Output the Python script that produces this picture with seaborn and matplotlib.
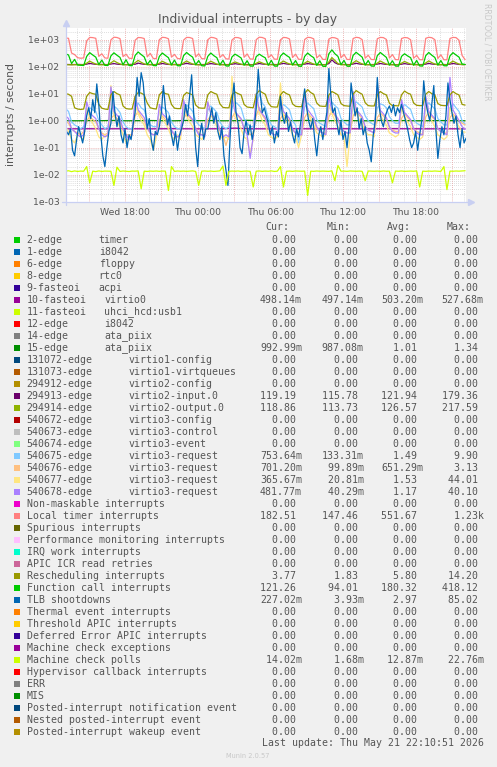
import matplotlib
matplotlib.use("Agg")
import matplotlib.pyplot as plt
import matplotlib.dates as mdates
from matplotlib.patches import Rectangle
from matplotlib.ticker import FixedLocator, FuncFormatter, NullFormatter, NullLocator
import numpy as np
import pandas as pd
import seaborn as sns

# ---------------- data ----------------
t15 = pd.date_range("2026-05-20 13:05", periods=133, freq="15min")   # most series
t10 = pd.date_range("2026-05-20 13:10", periods=199, freq="10min")   # TLB shootdowns
t60 = pd.date_range("2026-05-20 13:05", periods=34, freq="60min")    # flat series

virtio0 = [0.498, 0.5, 0.502, 0.499, 0.501, 0.503, 0.5, 0.498, 0.502, 0.505, 0.5, 0.499,
           0.501, 0.503, 0.528, 0.502, 0.5, 0.499, 0.501, 0.504, 0.5, 0.498, 0.502, 0.503,
           0.5, 0.499, 0.501, 0.505, 0.502, 0.5, 0.499, 0.501, 0.5, 0.498]
ata_piix = [1.0, 0.99, 1.01, 1.0, 1.02, 0.99, 1.0, 1.01, 1.0, 0.99, 1.02, 1.0,
            1.01, 0.99, 1.0, 1.03, 1.0, 0.99, 1.01, 1.0, 1.02, 0.99, 1.0, 1.01,
            1.0, 0.99, 1.02, 1.0, 1.01, 0.99, 1.0, 1.01, 1.0, 0.993]

virtio2_in = ([121, 120, 119, 120, 121, 120, 119] +
              [124, 132, 126, 122, 120, 121, 120, 119] + [125, 130, 124, 121, 120, 119, 120, 121] +
              [123, 135, 127, 122, 121, 120, 119, 120] + [124, 131, 125, 121, 120, 121, 120, 119] +
              [125, 133, 126, 122, 120, 119, 120, 120] + [124, 130, 125, 121, 121, 120, 119, 120] +
              [123, 129, 124, 121, 120, 120, 119, 119] + [124, 131, 125, 122, 120, 121, 120, 119] +
              [125, 132, 126, 122, 121, 120, 119, 120] + [124, 130, 125, 121, 120, 120, 119, 119] +
              [130, 179, 140, 124, 121, 120, 120, 119] + [125, 133, 126, 122, 120, 119, 120, 120] +
              [124, 131, 125, 121, 120, 120, 119, 119] + [123, 130, 124, 121, 121, 120, 119, 120] +
              [124, 132, 125, 122, 120, 119, 120, 119] + [124, 131, 126, 121, 120, 119.2])
virtio2_out = ([118, 117, 117, 118, 117, 118, 117] +
               [135, 160, 140, 125, 118, 117, 118, 117] + [138, 165, 142, 126, 117, 118, 117, 116] +
               [140, 170, 145, 127, 118, 117, 117, 118] + [134, 158, 139, 124, 117, 118, 117, 117] +
               [137, 162, 141, 125, 118, 117, 116, 117] + [135, 159, 140, 124, 117, 117, 118, 117] +
               [132, 150, 136, 123, 117, 116, 117, 117] + [133, 152, 137, 123, 118, 117, 117, 116] +
               [136, 161, 140, 125, 117, 118, 117, 117] + [135, 158, 139, 124, 117, 117, 116, 117] +
               [150, 217, 170, 130, 118, 117, 117, 116] + [138, 166, 143, 126, 117, 118, 117, 117] +
               [136, 162, 141, 125, 117, 117, 118, 117] + [134, 155, 138, 124, 118, 117, 117, 116] +
               [137, 163, 141, 125, 117, 118, 117, 117] + [136, 160, 140, 124, 119, 118.9])

req_675 = ([2.8, 2.2, 0.9, 0.7, 0.6, 0.5, 0.6] +
           [2.0, 3.0, 2.5, 2.2, 1.0, 0.7, 0.5, 0.6] + [2.5, 3.5, 2.8, 2.0, 0.9, 0.6, 0.5, 0.5] +
           [3.0, 4.5, 3.0, 2.5, 1.1, 0.7, 0.6, 0.6] + [2.2, 3.2, 2.6, 2.0, 0.9, 0.6, 0.5, 0.5] +
           [2.5, 3.8, 3.0, 2.2, 1.0, 0.7, 0.6, 0.5] + [2.4, 3.5, 2.7, 2.0, 0.9, 0.6, 0.5, 0.6] +
           [3.0, 5.0, 4.0, 3.0, 1.2, 0.8, 0.6, 0.6] + [3.5, 9.9, 4.5, 3.2, 1.2, 0.7, 0.6, 0.5] +
           [2.8, 4.0, 3.2, 2.5, 1.0, 0.7, 0.15, 0.6] + [3.2, 4.5, 3.5, 2.8, 1.1, 0.8, 0.7, 0.6] +
           [3.0, 4.8, 3.6, 2.9, 1.2, 0.9, 0.7, 0.7] + [3.5, 5.0, 4.0, 3.2, 1.5, 1.0, 0.8, 0.7] +
           [3.0, 4.2, 3.8, 3.0, 1.4, 1.0, 0.8, 0.8] + [2.8, 4.0, 3.2, 2.6, 1.2, 0.8, 0.7, 0.6] +
           [3.2, 4.6, 3.5, 2.8, 1.2, 0.9, 0.7, 0.7] + [3.0, 4.2, 3.0, 2.2, 1.0, 0.75])
req_676 = ([1.0, 0.8, 0.5, 0.4, 0.35, 0.3, 0.4] +
           [1.0, 1.4, 1.1, 0.9, 0.5, 0.35, 0.3, 0.35] + [1.2, 1.6, 1.2, 0.9, 0.45, 0.3, 0.3, 0.3] +
           [1.5, 2.2, 1.4, 1.0, 0.5, 0.35, 0.3, 0.35] + [1.0, 1.5, 1.1, 0.8, 0.4, 0.3, 0.25, 0.3] +
           [1.2, 1.8, 1.3, 1.0, 0.5, 0.35, 0.3, 0.3] + [1.1, 1.5, 1.2, 0.9, 0.45, 0.3, 0.12, 0.3] +
           [1.3, 2.0, 1.5, 1.1, 0.5, 0.4, 0.3, 0.35] + [1.5, 3.1, 1.6, 1.1, 0.5, 0.35, 0.3, 0.3] +
           [1.2, 1.7, 1.3, 1.0, 0.45, 0.35, 0.3, 0.3] + [1.3, 2.0, 1.4, 1.1, 0.5, 0.4, 0.35, 0.35] +
           [1.4, 2.2, 1.5, 1.1, 0.55, 0.4, 0.35, 0.35] + [1.5, 2.3, 1.6, 1.2, 0.6, 0.45, 0.4, 0.35] +
           [1.3, 1.9, 1.5, 1.1, 0.55, 0.45, 0.4, 0.4] + [1.2, 1.8, 1.3, 1.0, 0.5, 0.4, 0.35, 0.3] +
           [1.4, 2.0, 1.4, 1.1, 0.5, 0.4, 0.35, 0.35] + [1.3, 1.8, 1.3, 1.0, 0.8, 0.7])
req_677 = ([0.6, 0.4, 0.2, 0.15, 0.3, 0.25, 0.2] +
           [3.0, 1.2, 0.8, 0.5, 0.25, 0.2, 0.3, 0.25] + [20, 1.5, 0.9, 0.6, 0.3, 0.15, 0.25, 0.3] +
           [4.0, 1.8, 1.0, 0.7, 0.3, 0.2, 0.08, 0.25] + [2.5, 1.2, 0.8, 0.5, 0.25, 0.2, 0.3, 0.2] +
           [5.0, 1.5, 0.9, 0.6, 0.3, 0.25, 0.2, 0.3] + [5.0, 2.0, 1.0, 0.6, 0.3, 0.2, 0.25, 0.2] +
           [44, 1.4, 0.8, 0.5, 0.25, 0.2, 0.06, 0.2] + [6.0, 2.0, 1.0, 0.7, 0.3, 0.25, 0.2, 0.25] +
           [25, 1.5, 0.9, 0.6, 0.3, 0.25, 0.1, 0.3] + [12, 2.0, 1.1, 0.7, 0.35, 0.3, 0.25, 0.3] +
           [4.0, 1.8, 1.0, 0.6, 0.3, 0.25, 0.02, 0.3] + [6.0, 2.0, 1.1, 0.8, 0.4, 0.3, 0.3, 0.25] +
           [15, 1.6, 1.0, 0.7, 0.35, 0.3, 0.25, 0.3] + [3.0, 1.4, 0.9, 0.6, 0.3, 0.25, 0.2, 0.25] +
           [4.5, 1.6, 1.0, 0.6, 0.3, 0.25, 0.2, 0.25] + [3.0, 1.5, 0.9, 0.6, 0.4, 0.37])
req_678 = ([1.5, 1.2, 0.5, 0.4, 0.3, 0.25, 0.3] +
           [5.0, 2.0, 1.5, 1.2, 0.5, 0.3, 0.25, 0.3] + [18, 2.2, 1.6, 1.2, 0.5, 0.3, 0.2, 0.3] +
           [8.0, 2.5, 1.8, 1.3, 0.6, 0.35, 0.3, 0.3] + [4.0, 1.8, 1.4, 1.0, 0.45, 0.3, 0.25, 0.3] +
           [6.0, 2.0, 1.5, 1.1, 0.5, 0.3, 0.3, 0.25] + [5.0, 1.8, 1.4, 1.0, 0.45, 0.25, 0.3, 0.25] +
           [7.0, 2.2, 1.6, 1.2, 0.5, 0.3, 0.04, 0.25] + [10, 2.5, 1.8, 1.3, 0.55, 0.35, 0.3, 0.3] +
           [6.0, 2.2, 1.6, 1.2, 0.5, 0.35, 0.3, 0.3] + [9.0, 2.6, 1.8, 1.3, 0.6, 0.4, 0.35, 0.3] +
           [8.0, 2.4, 1.7, 1.2, 0.55, 0.4, 0.35, 0.35] + [12, 2.6, 1.9, 1.4, 0.6, 0.45, 0.4, 0.35] +
           [20, 2.4, 1.8, 1.3, 0.6, 0.4, 0.35, 0.35] + [6.0, 2.0, 1.5, 1.1, 0.5, 0.35, 0.3, 0.3] +
           [8.0, 2.2, 1.6, 1.2, 0.5, 0.4, 0.35, 0.3] + [40, 2.5, 1.6, 1.0, 0.6, 0.48])

local_timer = ([1150, 1120, 320, 280, 215, 205, 210] +
               [900, 1210, 1190, 1120, 240, 300, 210, 205] + [980, 1230, 1200, 1090, 235, 290, 205, 200] +
               [950, 1200, 1180, 1100, 230, 310, 200, 198] + [1000, 1220, 1190, 1080, 225, 285, 200, 196] +
               [960, 1210, 1200, 1100, 228, 300, 198, 195] + [990, 1220, 1180, 1070, 220, 280, 195, 192] +
               [970, 1200, 1190, 1090, 222, 295, 192, 190] + [1000, 1230, 1200, 1080, 215, 275, 190, 188] +
               [980, 1210, 1180, 1060, 218, 290, 188, 186] + [1010, 1220, 1190, 1070, 210, 270, 186, 185] +
               [1050, 1200, 1170, 1050, 212, 285, 185, 184] + [1100, 1220, 1180, 1000, 205, 265, 184, 182] +
               [1080, 1210, 1190, 1020, 208, 280, 182, 181] + [1100, 1200, 1170, 990, 205, 262, 181, 180] +
               [1120, 1220, 1180, 1000, 200, 275, 180, 179] + [1100, 1210, 1190, 950, 260, 182.5])
rescheduling = ([10, 9.5, 8, 3.0, 2.7, 2.6, 2.7] +
                [8, 11, 10, 9.5, 4, 2.9, 2.7, 2.6] + [9, 12, 10, 9, 3.5, 2.8, 2.7, 2.7] +
                [8, 11, 10.5, 9, 4.5, 3.0, 2.8, 2.7] + [9, 12, 10, 9.5, 4, 2.9, 2.8, 2.8] +
                [8.5, 11, 10, 9, 3.8, 3.0, 2.9, 2.9] + [9, 12, 10.5, 9.5, 4.2, 3.1, 3.0, 3.0] +
                [9, 11.5, 10, 9, 4, 3.2, 3.1, 3.0] + [9.5, 13, 11, 9.5, 4.5, 3.3, 3.2, 3.2] +
                [9, 12, 10, 9, 4.2, 3.4, 3.3, 3.3] + [10, 14.2, 11, 9.5, 4.5, 3.5, 3.4, 3.4] +
                [9, 12, 10.5, 9, 4.3, 3.6, 3.5, 3.4] + [9.5, 13, 11, 9.5, 4.6, 3.6, 3.5, 3.5] +
                [9, 12, 10, 9, 4.4, 3.6, 3.6, 3.5] + [9, 12.5, 10.5, 9.5, 4.5, 3.7, 3.6, 3.6] +
                [9.5, 12, 10, 9, 4.3, 3.7, 3.6, 3.6] + [9, 12, 10, 9, 4.0, 3.77])
function_call = ([300, 270, 130, 185, 115, 112, 110] +
                 [240, 330, 270, 225, 120, 175, 112, 110] + [250, 325, 265, 220, 118, 180, 110, 108] +
                 [260, 350, 280, 230, 120, 170, 110, 108] + [240, 320, 260, 215, 116, 175, 108, 107] +
                 [255, 335, 270, 225, 118, 168, 108, 106] + [240, 320, 255, 215, 115, 172, 106, 105] +
                 [230, 290, 250, 210, 114, 165, 105, 104] + [235, 290, 245, 212, 113, 170, 105, 104] +
                 [245, 320, 260, 220, 115, 168, 104, 103] + [240, 320, 255, 215, 112, 165, 103, 102] +
                 [300, 418, 300, 240, 118, 170, 104, 103] + [260, 340, 275, 225, 115, 168, 105, 104] +
                 [255, 335, 270, 220, 114, 165, 105, 104] + [240, 300, 250, 215, 113, 170, 106, 105] +
                 [255, 335, 265, 220, 115, 168, 108, 107] + [250, 330, 270, 225, 125, 121])
tlb = ([0.4, 0.3, 0.5, 0.08, 0.05, 0.2, 0.6, 0.3, 0.15, 0.4] +
       [1.5, 3, 1.2, 6, 2, 23, 4, 0.3, 0.05, 0.02, 0.1, 0.4] +
       [0.8, 12, 2, 0.6, 1.5, 0.3, 0.15, 0.5, 0.1, 0.3, 0.2, 0.7] +
       [2, 40, 8, 60, 25, 3, 0.5, 1.2, 0.2, 0.08, 0.4, 0.3] +
       [0.6, 2, 20, 3, 0.7, 1.5, 0.3, 0.12, 0.4, 0.08, 0.3, 0.5] +
       [1, 4, 1.5, 8, 50, 2, 0.1, 0.02, 0.3, 0.8, 0.2, 0.5] +
       [0.5, 1.2, 3, 0.8, 2, 0.4, 0.2, 0.6, 0.05, 0.015, 0.004, 0.2] +
       [5, 25, 2, 0.8, 0.1, 0.06, 0.4, 1, 0.3, 0.7, 0.2, 0.5] +
       [3, 80, 10, 2, 3, 1.5, 0.8, 0.3, 0.6, 0.15, 0.4, 0.25] +
       [8, 1.5, 0.8, 2, 0.4, 0.9, 0.3, 0.15, 0.5, 0.25, 0.8, 4] +
       [15, 3, 1, 0.5, 1.2, 0.2, 0.05, 0.3, 0.6, 0.2, 0.7, 2] +
       [85, 8, 2, 3, 0.8, 0.3, 1, 0.2, 0.4, 0.1, 0.6, 25] +
       [6, 1.5, 3, 0.5, 1.2, 0.3, 0.6, 0.15, 0.08, 0.03, 0.3, 1] +
       [40, 3, 1, 0.6, 1.5, 2.5, 3.5, 2, 4, 1.5, 3, 2] +
       [4, 2, 1, 0.5, 0.2, 0.1, 0.15, 0.4, 0.08, 0.3, 1, 30] +
       [5, 2, 1, 4, 20, 0.5, 0.04, 0.2, 0.6, 0.3, 1.5, 25] +
       [6, 2, 0.8, 1.5, 0.3, 0.1, 0.5, 0.15, 0.227])
mc_polls = ([.0135, .014, .013, .0138, .0132, .0136, .0134] +
            [.02, .005, .0135, .013, .0138, .0132, .0136, .0135] +
            [.0134, .004, .019, .0132, .0137, .0134, .0131, .0136] +
            [.0135, .0138, .003, .0135, .0132, .0136, .0134, .0137] +
            [.0133, .0136, .0135, .0026, .02, .0132, .0137, .0134] +
            [.0136, .0133, .0135, .0138, .0132, .004, .0135, .0137] +
            [.0134, .0136, .0132, .0135, .0138, .021, .004, .0133] +
            [.0136, .0134, .0137, .0132, .0135, .0136, .0133, .0035] +
            [.0135, .0137, .0133, .0136, .0134, .0138, .0132, .0135] +
            [.02, .0035, .0134, .0136, .0133, .0137, .0135, .0134] +
            [.0136, .0017, .0135, .0133, .0137, .0134, .0136, .0135] +
            [.0133, .0138, .006, .022, .0134, .0136, .0133, .0137] +
            [.0135, .0134, .0136, .0133, .006, .0137, .0135, .0134] +
            [.0136, .0133, .0137, .0134, .0135, .005, .0136, .0134] +
            [.0137, .0133, .0135, .0136, .0134, .0138, .0035, .0135] +
            [.0133, .0136, .0134, .0137, .0135, .0132, .02, .0028] +
            [.0136, .0134, .0137, .0135, .0138, .014])

# legend table
names = ["2-edge", "1-edge", "6-edge", "8-edge", "9-fasteoi", "10-fasteoi", "11-fasteoi",
         "12-edge", "14-edge", "15-edge", "131072-edge", "131073-edge", "294912-edge",
         "294913-edge", "294914-edge", "540672-edge", "540673-edge", "540674-edge",
         "540675-edge", "540676-edge", "540677-edge", "540678-edge",
         "Non-maskable interrupts", "Local timer interrupts", "Spurious interrupts",
         "Performance monitoring interrupts", "IRQ work interrupts", "APIC ICR read retries",
         "Rescheduling interrupts", "Function call interrupts", "TLB shootdowns",
         "Thermal event interrupts", "Threshold APIC interrupts", "Deferred Error APIC interrupts",
         "Machine check exceptions", "Machine check polls", "Hypervisor callback interrupts",
         "ERR", "MIS", "Posted-interrupt notification event", "Nested posted-interrupt event",
         "Posted-interrupt wakeup event"]
devices = ["timer", "i8042", "floppy", "rtc0", "acpi", "virtio0", "uhci_hcd:usb1", "i8042",
           "ata_piix", "ata_piix", "virtio1-config", "virtio1-virtqueues", "virtio2-config",
           "virtio2-input.0", "virtio2-output.0", "virtio3-config", "virtio3-control",
           "virtio3-event", "virtio3-request", "virtio3-request", "virtio3-request",
           "virtio3-request"] + [""] * 20
colors = ["#00CC00", "#0066B3", "#FF8000", "#FFCC00", "#330099", "#990099", "#CCFF00",
          "#FF0000", "#808080", "#008F00", "#00487D", "#B35A00", "#B38F00", "#6B006B",
          "#8FB300", "#B30000", "#BEBEBE", "#80FF80", "#80C9FF", "#FFC080", "#FFE680",
          "#AA80FF", "#EE00CC", "#FF8080", "#666600", "#FFBFFF", "#00FFCC", "#CC6699",
          "#999900", "#00CC00", "#0066B3", "#FF8000", "#FFCC00", "#330099", "#990099",
          "#CCFF00", "#FF0000", "#808080", "#008F00", "#00487D", "#B35A00", "#B38F00"]
cur_vals = [0] * 42
min_vals = [0] * 42
avg_vals = [0] * 42
max_vals = [0] * 42
stats = {5: (0.49814, 0.49714, 0.50320, 0.52768), 9: (0.99299, 0.98708, 1.01, 1.34),
         13: (119.19, 115.78, 121.94, 179.36), 14: (118.86, 113.73, 126.57, 217.59),
         18: (0.75364, 0.13331, 1.49, 9.90), 19: (0.70120, 0.09989, 0.65129, 3.13),
         20: (0.36567, 0.02081, 1.53, 44.01), 21: (0.48177, 0.04029, 1.17, 40.10),
         23: (182.51, 147.46, 551.67, 1230), 28: (3.77, 1.83, 5.80, 14.20),
         29: (121.26, 94.01, 180.32, 418.12), 30: (0.22702, 0.00393, 2.97, 85.02),
         35: (0.01402, 0.00168, 0.01287, 0.02276)}
for k, (c, mn, av, mx) in stats.items():
    cur_vals[k], min_vals[k], avg_vals[k], max_vals[k] = c, mn, av, mx

# ---------------- long-form frame for seaborn ----------------
plotted = [(5, t60, virtio0), (9, t60, ata_piix), (13, t15, virtio2_in), (14, t15, virtio2_out),
           (18, t15, req_675), (19, t15, req_676), (20, t15, req_677), (21, t15, req_678),
           (23, t15, local_timer), (28, t15, rescheduling), (29, t15, function_call),
           (30, t10, tlb), (35, t15, mc_polls)]
frames = []
for idx, times, vals in plotted:
    frames.append(pd.DataFrame({"time": times, "value": vals, "series": names[idx]}))
df = pd.concat(frames, ignore_index=True)
order = [names[i] for i, _, _ in plotted]
pal = {names[i]: colors[i] for i, _, _ in plotted}

# ---------------- figure ----------------
sns.set_theme(style="white")
plt.rcParams["font.family"] = ["DejaVu Sans"]
W, H = 497, 767
fig = plt.figure(figsize=(W / 100, H / 100), dpi=100, facecolor="#F0F0F0")
ax = fig.add_axes([66 / W, 1 - 201.7 / H, 400 / W, 173.4 / H])
ax.set_facecolor("white")

x0 = pd.Timestamp("2026-05-20 13:07:30")
x1 = pd.Timestamp("2026-05-21 22:09:30")

# grid
minor_c, major_c = "#d4d4d4", "#e6a0a0"
for dec in range(-3, 4):
    for m in range(2, 10):
        v = m * 10.0 ** dec
        if v < 2700:
            ax.axhline(v, color=minor_c, lw=0.6, ls=(0, (1, 1.5)), zorder=0)
    ax.axhline(10.0 ** dec, color=major_c, lw=0.6, ls=(0, (1, 1.5)), zorder=0)
for h in pd.date_range("2026-05-20 14:00", "2026-05-21 22:00", freq="1h"):
    ax.axvline(h, color=major_c if h.hour % 3 == 0 else minor_c, lw=0.6,
               ls=(0, (1, 1.5)), zorder=0)

sns.lineplot(data=df, x="time", y="value", hue="series", hue_order=order, palette=pal,
             estimator=None, legend=False, linewidth=0.9, ax=ax)

ax.set_yscale("log")
ax.set_ylim(1e-3, 2630)
ax.set_xlim(x0, x1)
ax.set_xlabel("")
ax.set_ylabel("")
ax.yaxis.set_major_locator(FixedLocator([10.0 ** d for d in range(-3, 4)]))
ax.yaxis.set_major_formatter(FuncFormatter(lambda v, p: f"{v:.0e}"))
ax.yaxis.set_minor_locator(NullLocator())
ax.yaxis.set_minor_formatter(NullFormatter())
ax.xaxis.set_major_locator(mdates.HourLocator(byhour=[0, 6, 12, 18]))
ax.xaxis.set_major_formatter(mdates.DateFormatter("%a %H:%M"))
ax.tick_params(axis="both", length=0, labelsize=6.7, labelcolor="#555555")
ax.tick_params(axis="y", pad=4.8)
ax.tick_params(axis="x", pad=4.5)
for s in ["top", "right", "left", "bottom"]:
    ax.spines[s].set_visible(False)

# overlay in pixel coordinates for texts, axes arrows and the legend table
ov = fig.add_axes([0, 0, 1, 1])
ov.set_xlim(0, W)
ov.set_ylim(H, 0)
ov.axis("off")

axis_c = "#c8cff2"
ov.plot([66, 66], [205, 25], color=axis_c, lw=0.9)
ov.plot([62, 469], [202, 202], color=axis_c, lw=0.9)
ov.plot([66], [23], marker="^", ms=4, color=axis_c, mec=axis_c)
ov.plot([471], [202], marker=">", ms=4, color=axis_c, mec=axis_c)

txt_c = "#555555"
ov.text(248, 19, "Individual interrupts - by day", ha="center", va="center",
        fontsize=8.9, color=txt_c)
ov.text(11, 115, "interrupts / second", ha="center", va="center", rotation=90,
        fontsize=7.8, color=txt_c)
ov.text(487, 52, "RRDTOOL / TOBI OETIKER", ha="center", va="center", rotation=270,
        fontsize=5.5, color="#c8c8c8")


def si(v):
    if v == 0:
        return "  0.00 "
    if abs(v) < 1:
        return f"{v * 1000:6.2f}m"
    if abs(v) >= 1000:
        return f"{v / 1000:6.2f}k"
    return f"{v:6.2f} "


mono = dict(family="DejaVu Sans Mono", fontsize=7.1, color=txt_c, va="center", ha="left")
col_x = [260, 321.7, 381, 441.7]
for hx, lab in zip([265.7, 326.7, 386.7, 446.7], ["Cur:", "Min:", "Avg:", "Max:"]):
    ov.text(hx, 227.3, lab, **mono)
for i in range(42):
    y = 240 + 12 * i
    ov.add_patch(Rectangle((14, y - 3), 6, 6, color=colors[i], lw=0))
    ov.text(26.7, y, names[i], **mono)
    if devices[i]:
        dx = 98.7 if i < 5 else (104.3 if i < 10 else 128.3)
        ov.text(dx, y, devices[i], **mono)
    for cx, vals in zip(col_x, [cur_vals, min_vals, avg_vals, max_vals]):
        ov.text(cx, y, si(vals[i]), **mono)

ov.text(261.7, 743.3, "Last update: Thu May 21 22:10:51 2026", **mono)
ov.text(248, 755.7, "Munin 2.0.57", ha="center", va="center", fontsize=4.8, color="#c8c8c8")

fig.savefig("out.png", dpi=100, facecolor=fig.get_facecolor())
